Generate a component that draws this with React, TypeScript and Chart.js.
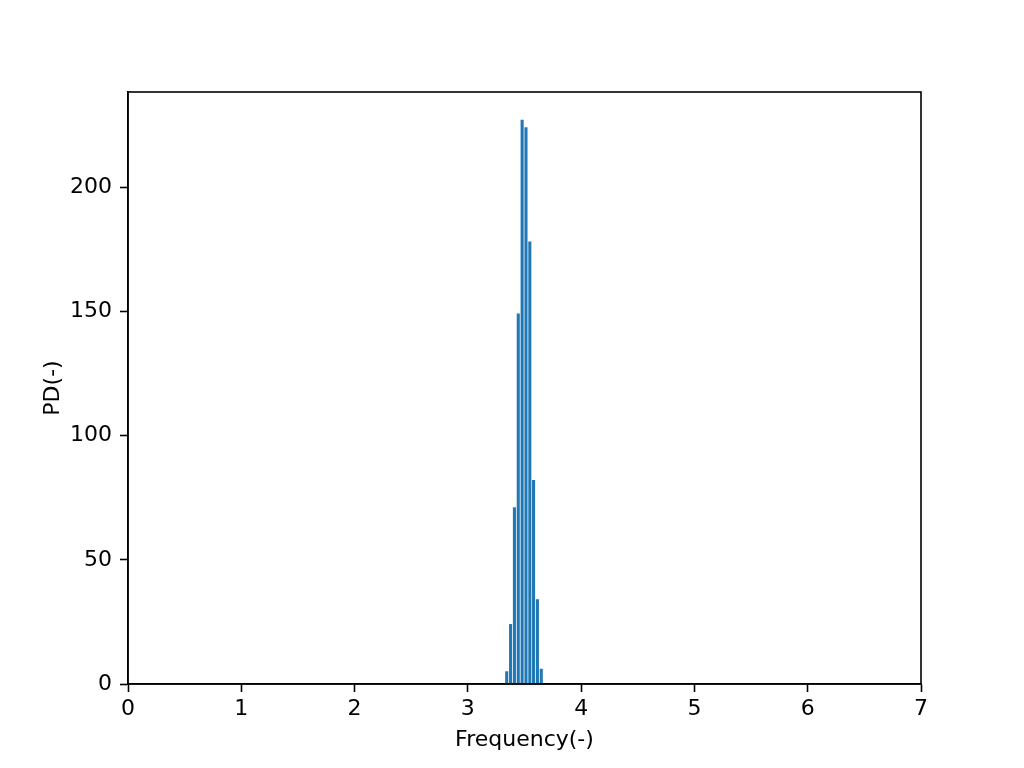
import React, { useEffect, useRef } from "react";
import { Chart, registerables } from "chart.js";

Chart.register(...registerables);

const binCenters = [3.343, 3.377, 3.411, 3.445, 3.479, 3.513, 3.547, 3.58, 3.614, 3.648];
const pdValues = [5, 24, 71, 149, 227, 224, 178, 82, 34, 6];
const xTicks = [0, 1, 2, 3, 4, 5, 6, 7];
const yTicks = [0, 50, 100, 150, 200];

const FONT = "'DejaVu Sans', sans-serif";

export default function App() {
  const ref = useRef<HTMLCanvasElement | null>(null);
  useEffect(() => {
    if (!ref.current) return;
    const frame = {
      id: "frame",
      afterDraw(chart: any) {
        const { ctx, chartArea } = chart;
        ctx.save();
        ctx.strokeStyle = "#000";
        ctx.lineWidth = 1.6;
        ctx.strokeRect(chartArea.left, chartArea.top, chartArea.right - chartArea.left, chartArea.bottom - chartArea.top);
        ctx.restore();
      },
    };
    const chart = new Chart(ref.current, {
      type: "bar",
      data: {
        datasets: [
          {
            data: binCenters.map((x, i) => ({ x, y: pdValues[i] })),
            backgroundColor: "#1f77b4",
            borderWidth: 0,
            barThickness: 2.4,
          },
        ],
      },
      options: {
        animation: false,
        responsive: false,
        maintainAspectRatio: false,
        layout: { padding: { top: 92, right: 103, left: 0, bottom: 0 } },
        plugins: { legend: { display: false }, tooltip: { enabled: false } },
        scales: {
          x: {
            type: "linear",
            min: 0,
            max: 7,
            offset: false,
            afterBuildTicks: (axis: any) => {
              axis.ticks = xTicks.map((v) => ({ value: v }));
            },
            afterFit: (axis: any) => {
              axis.height = 84;
            },
            grid: { offset: false, drawOnChartArea: false, drawTicks: true, tickLength: 8, tickColor: "#000", tickWidth: 1.6 },
            border: { display: true, color: "#000", width: 1.6 },
            ticks: { color: "#000", font: { family: FONT, size: 22 }, padding: 4, maxRotation: 0, autoSkip: false },
            title: { display: true, text: "Frequency(-)", color: "#000", font: { family: FONT, size: 22 }, padding: { top: 0, bottom: 15 } },
          },
          y: {
            type: "linear",
            min: 0,
            max: 238.35,
            afterBuildTicks: (axis: any) => {
              axis.ticks = yTicks.map((v) => ({ value: v }));
            },
            afterFit: (axis: any) => {
              axis.width = 128;
            },
            grid: { offset: false, drawOnChartArea: false, drawTicks: true, tickLength: 8, tickColor: "#000", tickWidth: 1.6 },
            border: { display: true, color: "#000", width: 1.6 },
            ticks: { color: "#000", font: { family: FONT, size: 22 }, padding: 8, autoSkip: false },
            title: { display: true, text: "PD(-)", color: "#000", font: { family: FONT, size: 22 }, padding: { top: 40, bottom: 0 } },
          },
        },
      },
      plugins: [frame],
    });
    return () => chart.destroy();
  }, []);
  return (
    <div style={{ position: "fixed", left: 0, top: 0, width: 1024, height: 768, background: "#fff" }}>
      <canvas ref={ref} width={1024} height={768} style={{ width: 1024, height: 768 }} />
    </div>
  );
}
